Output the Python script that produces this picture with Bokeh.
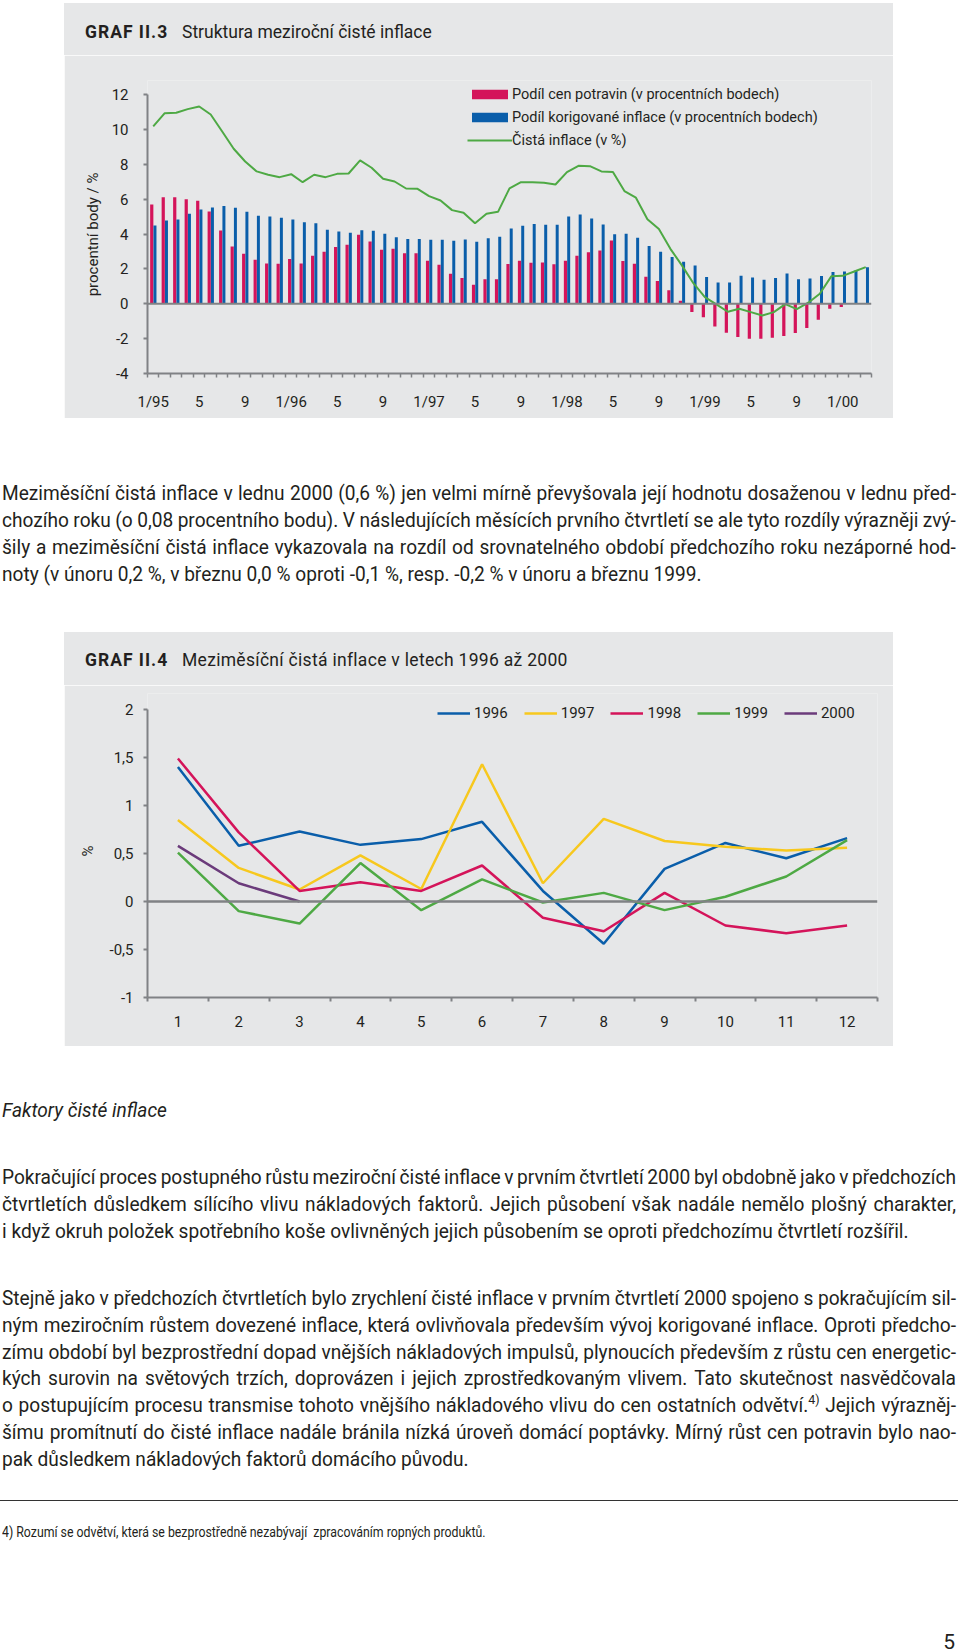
from bokeh.plotting import figure
from bokeh.models import (ColumnDataSource, Range1d, FixedTicker, Span, Legend,
                          LegendItem, Div, Spacer)
from bokeh.layouts import column, row
from bokeh.transform import dodge
from bokeh.embed import file_html
from bokeh.resources import INLINE

# ---------------- data: chart II.3 (monthly, 1/95 .. 3/00) ----------------
months = list(range(63))
food = [5.69, 6.11, 6.11, 6.0, 5.9, 5.29, 4.2, 3.29, 2.87, 2.52,
        2.31, 2.29, 2.56, 2.31, 2.75, 2.98, 3.25, 3.38, 3.96, 3.57,
        3.1, 3.15, 2.89, 2.89, 2.47, 2.24, 1.72, 1.47, 1.09, 1.41,
        1.41, 2.28, 2.47, 2.35, 2.37, 2.27, 2.47, 2.75, 2.96, 3.06,
        3.63, 2.45, 2.29, 1.55, 1.3, 0.78, 0.17, -0.48, -0.78, -1.3,
        -1.66, -1.91, -2.0, -2.0, -1.95, -1.85, -1.68, -1.39, -0.92, -0.29,
        -0.19, 0.0, 0.0]
core = [4.49, 4.78, 4.83, 5.16, 5.41, 5.52, 5.6, 5.5, 5.27, 5.04,
        5.0, 4.93, 4.83, 4.68, 4.62, 4.24, 4.15, 4.07, 4.22, 4.18,
        4.01, 3.82, 3.71, 3.71, 3.67, 3.67, 3.61, 3.69, 3.55, 3.76,
        3.84, 4.32, 4.47, 4.57, 4.53, 4.53, 5.0, 5.12, 4.89, 4.55,
        3.99, 4.01, 3.78, 3.31, 2.98, 2.68, 2.41, 2.2, 1.53, 1.22,
        1.22, 1.6, 1.51, 1.38, 1.47, 1.74, 1.41, 1.45, 1.59, 1.82,
        1.85, 1.91, 2.1]
net = [10.17, 10.93, 10.95, 11.16, 11.31, 10.85, 9.88, 8.89, 8.16, 7.59,
       7.4, 7.26, 7.43, 6.97, 7.4, 7.26, 7.45, 7.47, 8.22, 7.8,
       7.17, 7.01, 6.61, 6.59, 6.17, 5.92, 5.37, 5.22, 4.62, 5.16,
       5.27, 6.62, 6.97, 6.97, 6.94, 6.84, 7.55, 7.91, 7.89, 7.59,
       7.55, 6.46, 6.08, 4.85, 4.28, 3.15, 2.2, 1.18, 0.38, -0.04,
       -0.46, -0.29, -0.48, -0.67, -0.48, -0.02, -0.31, 0.06, 0.57, 1.57,
       1.6, 1.85, 2.1]
month_tick_pos = list(range(0, 61, 4))
month_tick_labels = ["1/95", "5", "9", "1/96", "5", "9", "1/97", "5", "9",
                     "1/98", "5", "9", "1/99", "5", "9", "1/00"]
y1_ticks = [-4, -2, 0, 2, 4, 6, 8, 10, 12]
y1_labels = ["-4", "-2", "0", "2", "4", "6", "8", "10", "12"]
legend1_labels = ["Podíl cen potravin (v procentních bodech)",
                  "Podíl korigované inflace (v procentních bodech)",
                  "Čistá inflace (v %)"]
title1 = ("GRAF II.3", "Struktura meziroční čisté inflace")

# ---------------- data: chart II.4 (month-on-month) ----------------
m12 = list(range(1, 13))
y1996 = [1.40, 0.58, 0.73, 0.59, 0.65, 0.83, 0.11, -0.44, 0.34, 0.61, 0.45, 0.66]
y1997 = [0.85, 0.35, 0.125, 0.48, 0.13, 1.43, 0.19, 0.86, 0.63, 0.57, 0.53, 0.56]
y1998 = [1.49, 0.72, 0.11, 0.20, 0.11, 0.375, -0.17, -0.31, 0.09, -0.25, -0.33, -0.25]
y1999 = [0.51, -0.1, -0.23, 0.40, -0.09, 0.23, -0.01, 0.09, -0.09, 0.05, 0.26, 0.64]
m2000 = [1, 2, 3]
y2000 = [0.58, 0.19, 0.0]
years = ["1996", "1997", "1998", "1999", "2000"]
y2_ticks = [-1, -0.5, 0, 0.5, 1, 1.5, 2]
y2_labels = ["-1", "-0,5", "0", "0,5", "1", "1,5", "2"]
title2 = ("GRAF II.4", "Meziměsíční čistá inflace v letech 1996 až 2000")

# ---------------- styles ----------------
FONT = "Roboto"
CSSFONT = "Roboto, 'Liberation Sans', sans-serif"
TXT = "#231f20"
BG = "#e6e7e8"
AX = "#808285"
RED = "#d4145a"
BLUE = "#0a5eaa"
GREEN = "#4ea944"
YELLOW = "#f7c81e"
PURPLE = "#6b3b7b"
NB = "\u00a0"


def style_axis(ax):
    ax.axis_line_color = AX
    ax.axis_line_width = 2
    ax.major_tick_line_color = AX
    ax.major_tick_line_width = 2
    ax.minor_tick_line_color = None
    ax.major_label_text_font = FONT
    ax.major_label_text_font_size = "15px"
    ax.major_label_text_color = TXT
    ax.axis_label_text_font = FONT
    ax.axis_label_text_font_size = "15px"
    ax.axis_label_text_font_style = "normal"
    ax.axis_label_text_color = TXT


def title_div(parts, height, top, rest_spacing):
    bold, rest = parts
    html = ('<div style="position:relative;width:829px;height:%dpx;background:%s;'
            'font-family:%s;color:%s;">'
            '<div style="position:absolute;left:21px;top:%.1fpx;line-height:17px;font-size:17.5px;'
            'font-weight:bold;letter-spacing:1px;white-space:nowrap;">%s</div>'
            '<div style="position:absolute;left:118px;top:%.1fpx;line-height:17px;font-size:17.5px;'
            'letter-spacing:%.2fpx;white-space:nowrap;">%s</div></div>'
            % (height, BG, CSSFONT, TXT, top, bold, top, rest_spacing, rest))
    return Div(width=829, height=height, margin=0, text=html)


# ================= chart II.3 =================
PX1 = 279 / 16.0  # pixels per unit of the 12..-4 axis
p1 = figure(width=829, height=363, x_range=Range1d(-0.5, 62.5),
            y_range=Range1d(-4, 12 + 14 / PX1),
            output_backend="svg", toolbar_location=None,
            min_border_left=83, min_border_right=22, min_border_top=25, min_border_bottom=45,
            background_fill_color=BG, border_fill_color=BG, outline_line_color=None)
p1.grid.visible = False
src1 = ColumnDataSource(dict(m=months, food=food, core=core, net=net))
r_food = p1.vbar(x=dodge("m", -0.13), top="food", width=0.28, source=src1,
                 fill_color=RED, line_color=None)
r_core = p1.vbar(x=dodge("m", 0.15), top="core", width=0.26, source=src1,
                 fill_color=BLUE, line_color=None)
p1.add_layout(Span(location=0, dimension="width", line_color=AX, line_width=2))
r_net = p1.line("m", "net", source=src1, line_color=GREEN, line_width=2)

style_axis(p1.yaxis[0])
p1.yaxis.ticker = FixedTicker(ticks=y1_ticks)
p1.yaxis.major_label_overrides = {t: l for t, l in zip(y1_ticks, y1_labels)}
p1.yaxis.bounds = (-4, 12)
p1.yaxis.major_tick_out = 4
p1.yaxis.major_tick_in = 0
p1.yaxis.major_label_standoff = 15
p1.yaxis.axis_label = "procentní body / %" + NB * 4
p1.yaxis.axis_label_standoff = 7

style_axis(p1.xaxis[0])
p1.xaxis.ticker = FixedTicker(ticks=month_tick_pos, minor_ticks=[k - 0.5 for k in range(64)])
p1.xaxis.major_tick_out = 0
p1.xaxis.major_tick_in = 0
p1.xaxis.minor_tick_line_color = AX
p1.xaxis.minor_tick_line_width = 1.5
p1.xaxis.minor_tick_out = 4
p1.xaxis.minor_tick_in = 0
p1.xaxis.major_label_overrides = {t: l for t, l in zip(month_tick_pos, month_tick_labels)}
p1.xaxis.major_label_standoff = 15

leg1 = Legend(items=[LegendItem(label=legend1_labels[0], renderers=[r_food]),
                     LegendItem(label=legend1_labels[1], renderers=[r_core]),
                     LegendItem(label=legend1_labels[2], renderers=[r_net])],
              location=(320, 224), orientation="vertical",
              glyph_width=45, glyph_height=12, label_height=18, label_standoff=0,
              spacing=5, padding=0, margin=0, border_line_color=None,
              background_fill_alpha=0, label_text_font=FONT,
              label_text_font_size="14.5px", label_text_color=TXT)
p1.add_layout(leg1)

# ================= chart II.4 =================
PX2 = 96.0
p2 = figure(width=829, height=361, x_range=Range1d(0.5, 12.5),
            y_range=Range1d(-1, 2 + 16 / PX2),
            output_backend="svg", toolbar_location=None,
            min_border_left=83, min_border_right=16, min_border_top=8, min_border_bottom=49,
            background_fill_color=BG, border_fill_color=BG, outline_line_color=None)
p2.grid.visible = False
p2.add_layout(Span(location=0, dimension="width", line_color=AX, line_width=2.5))
rs = []
for xs, ys, c in [(m12, y1996, BLUE), (m12, y1997, YELLOW), (m12, y1998, RED),
                  (m12, y1999, GREEN), (m2000, y2000, PURPLE)]:
    rs.append(p2.line(xs, ys, line_color=c, line_width=2.5))

style_axis(p2.yaxis[0])
p2.yaxis.ticker = FixedTicker(ticks=y2_ticks)
p2.yaxis.bounds = (-1, 2)
p2.yaxis.major_label_overrides = {t: l for t, l in zip(y2_ticks, y2_labels)}
p2.yaxis.major_tick_out = 4
p2.yaxis.major_tick_in = 0
p2.yaxis.major_label_standoff = 10
p2.yaxis.axis_label = "%" + NB * 3
p2.yaxis.axis_label_standoff = 10

style_axis(p2.xaxis[0])
p2.xaxis.ticker = FixedTicker(ticks=m12, minor_ticks=[k + 0.5 for k in range(13)])
p2.xaxis.major_tick_out = 0
p2.xaxis.major_tick_in = 0
p2.xaxis.minor_tick_line_color = AX
p2.xaxis.minor_tick_line_width = 2
p2.xaxis.minor_tick_out = 4
p2.xaxis.minor_tick_in = 0
p2.xaxis.major_label_standoff = 14

leg2 = Legend(items=[LegendItem(label=y, renderers=[r]) for y, r in zip(years, rs)],
              location=(290, 275), orientation="horizontal",
              glyph_width=33, glyph_height=18, label_height=18, label_width=29,
              label_standoff=4, spacing=16, padding=0, margin=0,
              border_line_color=None, background_fill_alpha=0, label_text_font=FONT,
              label_text_font_size="15px", label_text_color=TXT)
p2.add_layout(leg2)

# ================= body text =================
para1 = ["Meziměsíční čistá inflace v lednu 2000 (0,6 %) jen velmi mírně převyšovala její hodnotu dosaženou v lednu před-",
         "chozího roku (o 0,08 procentního bodu). V následujících měsících prvního čtvrtletí se ale tyto rozdíly výrazněji zvý-",
         "šily a meziměsíční čistá inflace vykazovala na rozdíl od srovnatelného období předchozího roku nezáporné hod-",
         "noty (v únoru 0,2 %, v březnu 0,0 % oproti -0,1 %, resp. -0,2 % v únoru a březnu 1999."]
heading = "Faktory čisté inflace"
para2 = ["Pokračující proces postupného růstu meziroční čisté inflace v prvním čtvrtletí 2000 byl obdobně jako v předchozích",
         "čtvrtletích důsledkem sílícího vlivu nákladových faktorů. Jejich působení však nadále nemělo plošný charakter,",
         "i když okruh položek spotřebního koše ovlivněných jejich působením se oproti předchozímu čtvrtletí rozšířil."]
para3 = ["Stejně jako v předchozích čtvrtletích bylo zrychlení čisté inflace v prvním čtvrtletí 2000 spojeno s pokračujícím sil-",
         "ným meziročním růstem dovezené inflace, která ovlivňovala především vývoj korigované inflace. Oproti předcho-",
         "zímu období byl bezprostřední dopad vnějších nákladových impulsů, plynoucích především z růstu cen energetic-",
         "kých surovin na světových trzích, doprovázen i jejich zprostředkovaným vlivem. Tato skutečnost nasvědčovala",
         "o postupujícím procesu transmise tohoto vnějšího nákladového vlivu do cen ostatních odvětví.§ Jejich výrazněj-",
         "šímu promítnutí do čisté inflace nadále bránila nízká úroveň domácí poptávky. Mírný růst cen potravin bylo nao-",
         "pak důsledkem nákladových faktorů domácího původu."]
footnote = "4) Rozumí se odvětví, která se bezprostředně nezabývají  zpracováním ropných produktů."
page_no = "5"

S = 0.955         # horizontal condensing of the body font
LINE_W = 954      # visible line width in px
SUP = '<span style="font-size:13px;position:relative;top:-8px;">4)</span>'


def line_html(text, center, size=20, lh=27, justify=False, extra="", left=2, scale=S):
    w = LINE_W / scale
    if justify:
        content = "".join("<span>%s</span>" % t for t in text.split(" ")).replace("§", SUP)
        flex = "display:flex;justify-content:space-between;column-gap:1px;"
    else:
        content = text.replace("§", SUP)
        flex = ""
    return ('<div style="position:absolute;left:%dpx;top:%.1fpx;width:%.1fpx;height:%dpx;'
            'line-height:%dpx;font-size:%dpx;white-space:nowrap;transform:scaleX(%.3f);'
            'transform-origin:0 0;%s%s">%s</div>'
            % (left, center - lh / 2, w, lh, lh, size, scale, flex, extra, content))


def para(lines, centers):
    return "".join(line_html(t, c, justify=(i < len(lines) - 1))
                   for i, (t, c) in enumerate(zip(lines, centers)))


def box(inner, h):
    return ('<div style="position:relative;width:960px;height:%dpx;font-family:%s;color:%s;">%s</div>'
            % (h, CSSFONT, TXT, inner))


div1 = Div(width=960, height=214, margin=0, text=box(para(para1, [75, 102, 129, 156]), 214))

inner2 = line_html(heading, 64, extra="font-style:italic;")
inner2 += para(para2, [131, 158, 185])
inner2 += para(para3, [252.3, 279.2, 306, 332.8, 359.6, 386.4, 413.2])
inner2 += ('<div style="position:absolute;left:0px;top:454px;width:958px;height:0;'
           'border-top:1.5px solid #333;"></div>')
inner2 += line_html(footnote, 485.7, size=14, lh=20, extra="white-space:pre;", scale=0.88)
inner2 += ('<div style="position:absolute;right:5px;top:588px;height:16px;line-height:16px;'
           'font-size:21px;">%s</div>' % page_no)
div2 = Div(width=960, height=604, margin=0, text=box(inner2, 604))

t1 = title_div(title1, 52, 20.7, 0.0)
t2 = title_div(title2, 53, 19.7, 0.3)

layout = column(Spacer(width=10, height=3, margin=0),
                row(Spacer(width=64, height=415, margin=0), column(t1, p1, margin=0), margin=0),
                div1,
                row(Spacer(width=64, height=414, margin=0), column(t2, p2, margin=0), margin=0),
                div2, margin=0)

open("out.html", "w").write(file_html(layout, INLINE))
